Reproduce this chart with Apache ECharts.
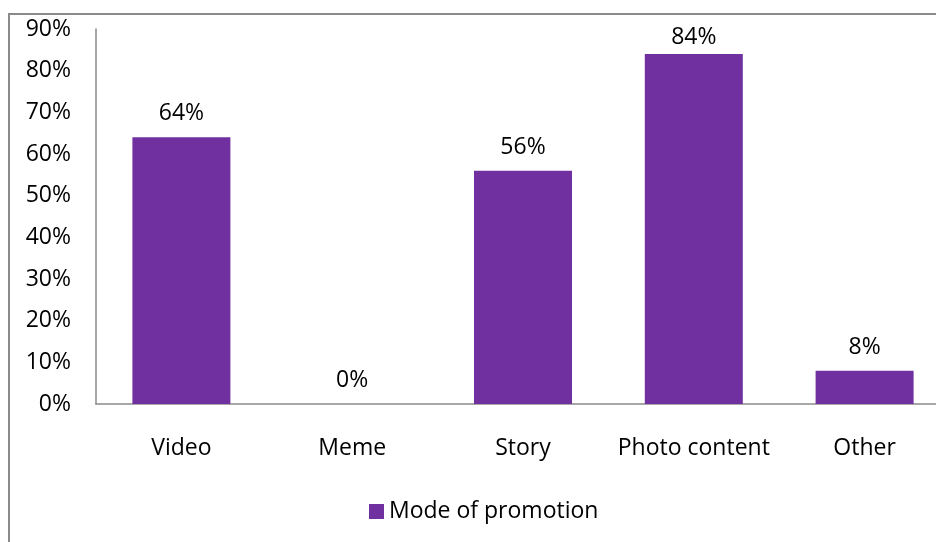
<!DOCTYPE html>
<html><head><meta charset="utf-8">
<script src="https://cdn.jsdelivr.net/npm/echarts@6/dist/echarts.min.js"></script>
<style>html,body{margin:0;padding:0;background:#fff;overflow:hidden;width:936px;height:542px}#c{width:960px;height:542px}</style>
</head><body><div id="c"></div>
<script>
const categories = ['Video', 'Meme', 'Story', 'Photo content', 'Other'];
const values = [64, 0, 56, 84, 8];
const seriesName = 'Mode of promotion';
const yTicks = [0, 10, 20, 30, 40, 50, 60, 70, 80, 90];

const FONT = '"Open Sans", Lato, sans-serif';
const FS = 23;
const yMax = yTicks[yTicks.length - 1];
const chart = echarts.init(document.getElementById('c'));
chart.setOption({
  animation: false,
  textStyle: { fontFamily: FONT },
  graphic: [{
    type: 'rect', shape: { x: 9, y: 14, width: 1000, height: 600 },
    style: { fill: 'none', stroke: '#8a8a8a', lineWidth: 2 }, z: -1
  }],
  grid: { left: 96, width: 854, top: 29, bottom: 138 },
  legend: {
    data: [seriesName], bottom: 14, left: 364,
    icon: 'rect', itemWidth: 15, itemHeight: 15, itemGap: 6,
    textStyle: { fontSize: FS, color: '#000', fontFamily: FONT }
  },
  xAxis: {
    type: 'category', data: categories,
    axisLine: { lineStyle: { color: '#8a8a8a', width: 1.5 } },
    axisTick: { show: false },
    axisLabel: { color: '#000', fontSize: FS, margin: 33, interval: 0, fontFamily: FONT }
  },
  yAxis: {
    type: 'value', min: yTicks[0], max: yMax, interval: 10,
    axisLine: { show: true, lineStyle: { color: '#8a8a8a', width: 1.5 } },
    axisTick: { show: false },
    splitLine: { show: false },
    axisLabel: { color: '#000', fontSize: FS, margin: 25, fontFamily: FONT, formatter: v => v + '%' }
  },
  series: [{
    name: seriesName, type: 'bar', barWidth: 98,
    data: values.map(v => (v > yMax - 10 ? { value: v, label: { distance: 5 } } : v)),
    itemStyle: { color: '#7030A0' },
    label: { show: true, position: 'top', distance: 12, color: '#000', fontSize: FS, fontFamily: FONT, formatter: p => p.value + '%' }
  }]
});
</script></body></html>
